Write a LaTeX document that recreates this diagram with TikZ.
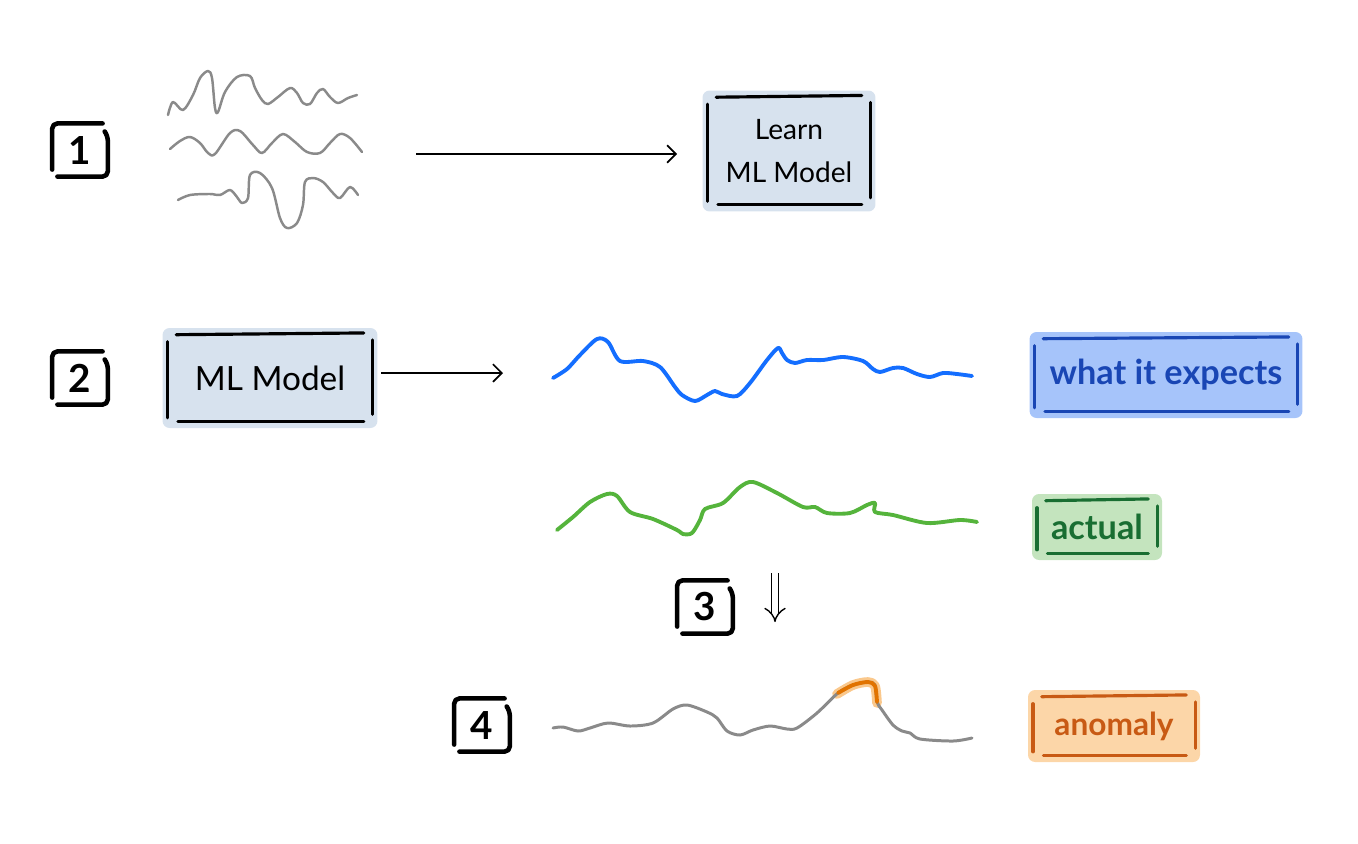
\documentclass[tikz,border=0pt]{standalone}
\usepackage{fontspec}
\setmainfont{Lato}
\usetikzlibrary{arrows.meta}

\definecolor{wavegray}{HTML}{8A8A8A}
\definecolor{modelfill}{HTML}{D7E2EE}
\definecolor{expline}{HTML}{146EFF}
\definecolor{expfill}{HTML}{A6C4FA}
\definecolor{expink}{HTML}{1946B4}
\definecolor{actline}{HTML}{55B43C}
\definecolor{actfill}{HTML}{C4E4BE}
\definecolor{actink}{HTML}{196E32}
\definecolor{anofill}{HTML}{FCD6A8}
\definecolor{anoink}{HTML}{C85A14}
\definecolor{anomark}{HTML}{E17300}
\definecolor{anohalo}{HTML}{FAC88C}

\tikzset{
  wave/.style={draw=wavegray,line width=1.4pt,line cap=round,line join=round},
  series/.style={line width=2.2pt,line cap=round,line join=round},
  tag/.style={inner sep=0pt,rounded corners=4pt,font=\fontsize{18}{22}\selectfont},
  stepnum/.style={minimum width=1.1cm,minimum height=1.05cm,inner sep=0pt,font=\fontsize{22}{24}\selectfont\bfseries},
  stepline/.style={line width=2.6pt,line cap=round,line join=round,rounded corners=3pt},
  sketch/.style={line width=1.8pt,line cap=round},
  flow/.style={line width=1pt,-{Straight Barb[length=5pt,width=10pt]}}
}

% loose strokes round a filled label
\newcommand\handframe[2]{%
  \draw[sketch,#2] ([xshift=8pt,yshift=-4pt]#1.north west) -- ([xshift=-8pt,yshift=-3pt]#1.north east);
  \draw[sketch,#2] ([xshift=3pt,yshift=-8pt]#1.north west) -- ([xshift=3pt,yshift=6pt]#1.south west);
  \draw[sketch,#2] ([xshift=9pt,yshift=4pt]#1.south west) -- ([xshift=-8pt,yshift=4pt]#1.south east);
  \draw[sketch,#2] ([xshift=-3pt,yshift=-7pt]#1.north east) -- ([xshift=-3pt,yshift=8pt]#1.south east);
}
% bracket strokes round a step number
\newcommand\stepframe[1]{%
  \draw[stepline] ([xshift=-3pt]#1.north east) -- (#1.north west) -- ([yshift=4pt]#1.south west);
  \draw[stepline] ([xshift=3pt]#1.south west) -- (#1.south east) -- ([yshift=-7pt]#1.north east) -- ++(-1.5pt,2pt);
}

\begin{document}
\begin{tikzpicture}[x=0.02cm,y=-0.02cm]
  \useasboundingbox (0,0) rectangle (1358,843);

  % step 1
  \node[stepnum] (s1) at (80,150) {1};
  \stepframe{s1}
  \draw[wave] plot[smooth,tension=0.55] coordinates {(168,115) (173,102) (183,110) (193,95) (200,78) (208,71) (212,78) (215,108) (218,112) (225,92) (237,77) (250,76) (255,88) (262,100) (268,104) (278,97) (290,88) (297,93) (303,103) (310,104) (317,93) (323,89) (330,97) (338,103) (348,98) (357,95)};
  \draw[wave] plot[smooth,tension=0.55] coordinates {(170,149) (180,141) (190,137) (200,143) (208,153) (215,154) (230,133) (240,131) (253,145) (262,153) (272,143) (283,134) (295,142) (307,152) (320,153) (330,143) (340,134) (350,138) (362,152)};
  \draw[wave] plot[smooth,tension=0.55] coordinates {(178,200) (190,195) (210,194) (220,195) (230,190) (237,197) (242,203) (248,198) (250,175) (260,173) (272,188) (280,218) (287,228) (297,223) (303,205) (305,182) (313,178) (323,182) (333,193) (340,198) (350,187) (358,195)};
  \coordinate (wavesout) at (416,154);
  \node[tag,fill=modelfill,minimum width=3.46cm,minimum height=2.42cm,align=center,font=\fontsize{16}{24}\selectfont] (learn) at (789,151) {Learn\\ML Model};
  \handframe{learn}{black}
  \draw[flow,shorten >=0.5cm] (wavesout) -- (learn.west |- wavesout);

  % step 2
  \node[stepnum] (s2) at (80,378) {2};
  \stepframe{s2}
  \node[tag,fill=modelfill,minimum width=4.3cm,minimum height=2cm,font=\fontsize{19}{22}\selectfont] (model) at (270,378) {ML Model};
  \handframe{model}{black}
  \coordinate (into) at (503,373);
  \draw[flow,shorten <=2pt] (model.east |- into) -- (into);
  \draw[series,expline] plot[smooth,tension=0.5] coordinates {(553,378) (567,369) (580,355) (597,339) (608,342) (620,361) (643,361) (660,367) (675,387) (682,395) (695,401) (707,395) (715,391) (722,394) (737,396) (750,383) (767,360) (778,348) (782,353) (787,360) (795,363) (807,360) (823,360) (843,357) (863,361) (873,369) (880,372) (893,368) (903,368) (917,374) (930,377) (943,373) (957,374) (972,376)};
  \node[tag,fill=expfill,text=expink,minimum width=5.46cm,minimum height=1.72cm,font=\fontsize{19.5}{22}\selectfont\bfseries] (expects) at (1166,375) {what it expects};
  \handframe{expects}{expink}

  \draw[series,actline] plot[smooth,tension=0.5] coordinates {(557,530) (573,517) (590,502) (607,494) (617,496) (630,512) (653,519) (677,530) (683,534) (692,533) (700,520) (705,509) (723,503) (740,487) (753,482) (777,493) (803,507) (815,507) (827,513) (850,513) (867,505) (875,503) (875,512) (893,515) (927,523) (960,520) (977,522)};
  \node[tag,fill=actfill,text=actink,minimum width=2.6cm,minimum height=1.32cm,font=\fontsize{19.5}{24}\selectfont\bfseries] (actual) at (1097,527) {actual};
  \handframe{actual}{actink}

  % step 3
  \node[stepnum] (s3) at (705,607) {3};
  \stepframe{s3}
  \coordinate (dropin) at (775,573);
  \coordinate (dropout) at (775,622);
  \draw[line width=0.8pt,double distance=3.5pt,-{Implies}] (dropin) -- (dropout);

  % step 4
  \node[stepnum] (s4) at (482,725) {4};
  \stepframe{s4}
  \draw[line width=5.5pt,anohalo,line cap=round,line join=round] plot[smooth,tension=0.5] coordinates {(837,694) (853,685) (868,682) (875,686) (877,703)};
  \draw[series,line width=1.7pt,wavegray] plot[smooth,tension=0.5] coordinates {(553,728) (563,727) (578,731) (590,728) (608,723) (630,726) (653,723) (673,709) (687,705) (707,712) (717,718) (727,731) (740,735) (753,730) (770,726) (787,729) (797,728) (817,713) (838,693) (853,685) (868,682) (875,685) (877,702) (882,710) (893,725) (902,731) (910,733) (920,739) (953,741) (972,738)};
  \draw[line width=2.2pt,anomark,line cap=round,line join=round] plot[smooth,tension=0.5] coordinates {(838,693) (853,685) (868,682) (875,686) (877,702)};
  \node[tag,fill=anofill,text=anoink,minimum width=3.44cm,minimum height=1.44cm,font=\fontsize{18}{22}\selectfont\bfseries] (anomaly) at (1114,726) {anomaly};
  \handframe{anomaly}{anoink}
\end{tikzpicture}
\end{document}
